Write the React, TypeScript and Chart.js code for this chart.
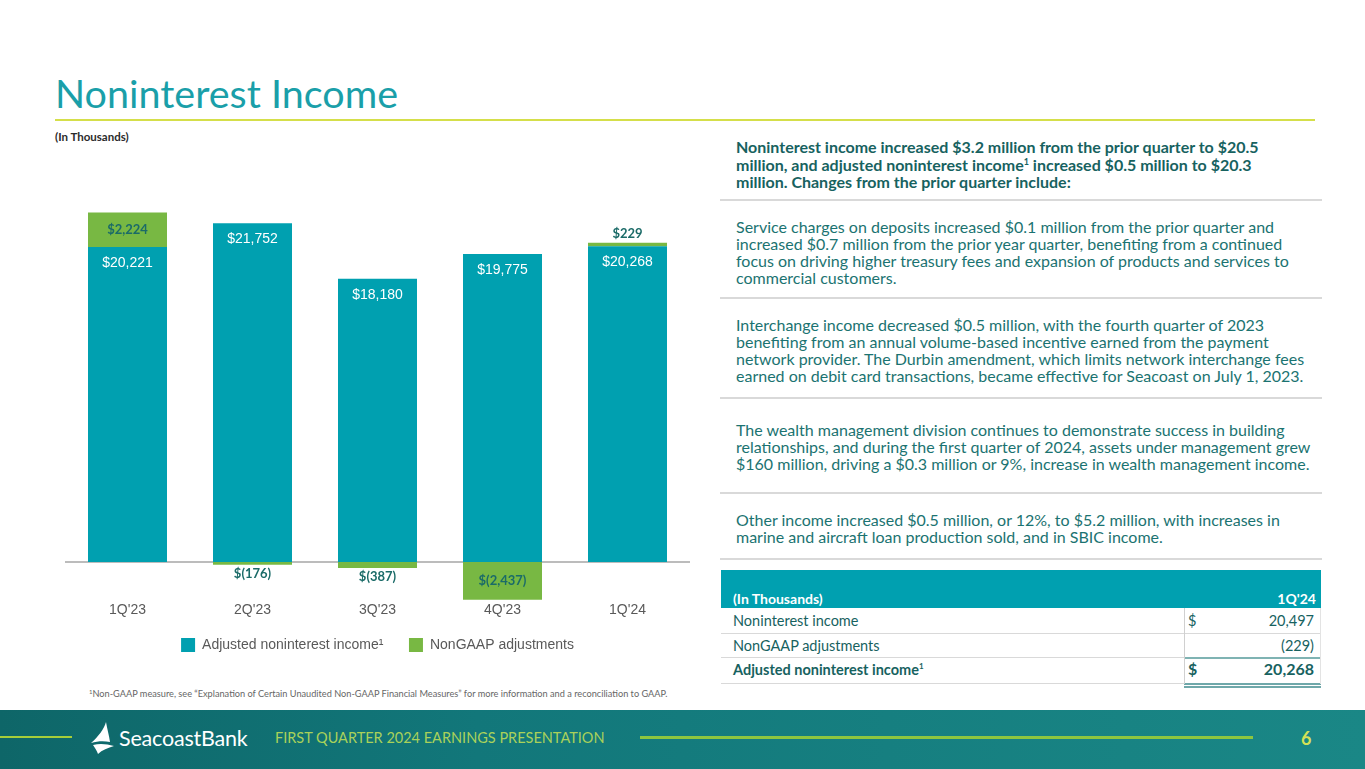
import React, { useEffect, useRef } from "react";
import { Chart, registerables } from "chart.js";

Chart.register(...registerables);

// ---------- DATA ----------
const categories = ["1Q'23", "2Q'23", "3Q'23", "4Q'23", "1Q'24"];
const adjustedIncome = [20221, 21752, 18180, 19775, 20268];
const nonGaapAdjustments = [2224, -176, -387, -2437, 229];
const seriesNames = ["Adjusted noninterest income", "NonGAAP adjustments"];

const tableHeader = ["(In Thousands)", "1Q'24"];
const tableLabels = ["Noninterest income", "NonGAAP adjustments", "Adjusted noninterest income"];
const tableValues = ["20,497", "(229)", "20,268"];

// ---------- STYLE ----------
const TEAL = "#00A0B0";
const GREEN = "#78B843";
const LABEL_DARK = "#1B6B68";
const GRAY_TEXT = "#595959";
const ARIAL = "'Liberation Sans', Arial, sans-serif";
const CAL = "Lato, 'Open Sans', sans-serif";
const HEAD_COLOR = "#17625F";
const BODY_COLOR = "#1B7371";

const fmt = (v: number) =>
  v < 0 ? `$(${Math.abs(v).toLocaleString("en-US")})` : `$${v.toLocaleString("en-US")}`;

const zeroLine = {
  id: "zeroLine",
  beforeDatasetsDraw(chart: any) {
    const { ctx, chartArea } = chart;
    const y = chart.scales.y.getPixelForValue(0);
    ctx.save();
    ctx.strokeStyle = "#A6A6A6";
    ctx.lineWidth = 1.5;
    ctx.beginPath();
    ctx.moveTo(chartArea.left, y);
    ctx.lineTo(chartArea.right, y);
    ctx.stroke();
    ctx.restore();
  },
};

const barLabels = {
  id: "barLabels",
  afterDatasetsDraw(chart: any) {
    const ctx = chart.ctx;
    const m0 = chart.getDatasetMeta(0);
    const m1 = chart.getDatasetMeta(1);
    ctx.save();
    ctx.textAlign = "center";
    ctx.textBaseline = "middle";
    m0.data.forEach((bar: any, i: number) => {
      ctx.font = `14px ${ARIAL}`;
      ctx.fillStyle = "#FFFFFF";
      ctx.fillText(fmt(adjustedIncome[i]), bar.x, bar.y + 16);
    });
    m1.data.forEach((bar: any, i: number) => {
      const v = nonGaapAdjustments[i];
      const top = Math.min(bar.y, bar.base);
      const bottom = Math.max(bar.y, bar.base);
      let y;
      if (Math.abs(v) >= 1000) y = (top + bottom) / 2;
      else if (v > 0) y = top - 9;
      else y = bottom + 9;
      ctx.font = `bold 13px ${CAL}`;
      ctx.fillStyle = LABEL_DARK;
      ctx.fillText(fmt(v), bar.x, y);
    });
    ctx.restore();
  },
};

function BarChart() {
  const ref = useRef<HTMLCanvasElement | null>(null);
  useEffect(() => {
    if (!ref.current) return;
    const chart = new Chart(ref.current, {
      type: "bar",
      data: {
        labels: categories,
        datasets: [
          {
            label: seriesNames[0],
            data: adjustedIncome,
            backgroundColor: TEAL,
            borderWidth: 0,
            categoryPercentage: 0.8,
            barPercentage: 0.79,
          },
          {
            label: seriesNames[1],
            data: nonGaapAdjustments,
            backgroundColor: GREEN,
            borderWidth: 0,
            categoryPercentage: 0.8,
            barPercentage: 0.79,
          },
        ],
      },
      options: {
        animation: false,
        responsive: false,
        devicePixelRatio: 1,
        layout: { padding: { top: 10, left: 10, right: 10, bottom: 0 } },
        scales: {
          x: {
            stacked: true,
            grid: { display: false, drawTicks: false },
            border: { display: false },
            ticks: { color: GRAY_TEXT, font: { family: ARIAL, size: 14 }, padding: 1 },
            afterFit: (s: any) => {
              s.height = 27;
            },
          },
          y: {
            stacked: true,
            display: false,
            min: -2511,
            max: 23245,
          },
        },
        plugins: {
          tooltip: { enabled: false },
          legend: {
            position: "bottom",
            labels: {
              boxWidth: 14,
              boxHeight: 14,
              padding: 10,
              color: GRAY_TEXT,
              font: { family: ARIAL, size: 14 },
              generateLabels: (c: any) => {
                const items = (Chart.defaults.plugins.legend.labels as any).generateLabels(c);
                items[0].text = seriesNames[0] + "\u00B9    ";
                items.forEach((it: any) => {
                  it.lineWidth = 0;
                  it.strokeStyle = "transparent";
                });
                return items;
              },
            },
          },
        },
      },
      plugins: [zeroLine, barLabels],
    } as any);
    return () => chart.destroy();
  }, []);
  return (
    <canvas
      ref={ref}
      width={645}
      height={472}
      style={{ position: "absolute", left: 55, top: 190, width: 645, height: 472 }}
    />
  );
}

const abs = (left: number, top: number, extra: React.CSSProperties = {}): React.CSSProperties => ({
  position: "absolute",
  left,
  top,
  whiteSpace: "nowrap",
  ...extra,
});

const Divider = ({ top }: { top: number }) => (
  <div style={{ position: "absolute", left: 720, top, width: 602, height: 2, background: "#D9D9D9" }} />
);

const Sup = ({ size = 9, rise = 6 }: { size?: number; rise?: number }) => (
  <span style={{ fontSize: size, lineHeight: 0, position: "relative", top: -rise }}>1</span>
);

export default function App() {
  useEffect(() => {
    document.body.style.margin = "0";
  }, []);
  const bodyStyle: React.CSSProperties = {
    fontFamily: CAL,
    fontSize: 16,
    lineHeight: "17px",
    color: BODY_COLOR,
  };
  return (
    <div
      style={{
        position: "fixed",
        left: 0,
        top: 0,
        width: 1365,
        height: 769,
        background: "#FFFFFF",
        overflow: "hidden",
        fontFamily: CAL,
      }}
    >
      {/* Title */}
      <div style={abs(55, 71, { fontSize: 39.5, lineHeight: "44px", color: "#1A9FA9" })}>Noninterest Income</div>
      <div style={{ position: "absolute", left: 55, top: 119, width: 1260, height: 2, background: "#D5DF4A" }} />
      <div style={abs(55, 130, { fontSize: 11.5, lineHeight: "14px", fontWeight: 700, color: "#2B2B2B" })}>
        (In Thousands)
      </div>

      <BarChart />

      {/* footnote */}
      <div style={abs(89, 688, { fontSize: 9.2, lineHeight: "12px", color: "#666666" })}>
        <span style={{ fontSize: 6, lineHeight: 0, position: "relative", top: -3 }}>1</span>Non-GAAP measure, see
        “Explanation of Certain Unaudited Non-GAAP Financial Measures” for more information and a reconciliation to
        GAAP.
      </div>

      {/* Right panel */}
      <div
        style={abs(736, 138, {
          fontFamily: CAL,
          fontSize: 16,
          lineHeight: "17.5px",
          fontWeight: 700,
          color: HEAD_COLOR,
        })}
      >
        Noninterest income increased $3.2 million from the prior quarter to $20.5
        <br />
        million, and adjusted noninterest income<Sup /> increased $0.5 million to $20.3
        <br />
        million. Changes from the prior quarter include:
      </div>
      <Divider top={199} />
      <div style={{ ...abs(736, 218), ...bodyStyle }}>
        Service charges on deposits increased $0.1 million from the prior quarter and
        <br />
        increased $0.7 million from the prior year quarter, benefiting from a continued
        <br />
        focus on driving higher treasury fees and expansion of products and services to
        <br />
        commercial customers.
      </div>
      <Divider top={297} />
      <div style={{ ...abs(736, 316), ...bodyStyle }}>
        Interchange income decreased $0.5 million, with the fourth quarter of 2023
        <br />
        benefiting from an annual volume-based incentive earned from the payment
        <br />
        network provider. The Durbin amendment, which limits network interchange fees
        <br />
        earned on debit card transactions, became effective for Seacoast on July 1, 2023.
      </div>
      <Divider top={397} />
      <div style={{ ...abs(736, 421), ...bodyStyle }}>
        The wealth management division continues to demonstrate success in building
        <br />
        relationships, and during the first quarter of 2024, assets under management grew
        <br />
        $160 million, driving a $0.3 million or 9%, increase in wealth management income.
      </div>
      <Divider top={492} />
      <div style={{ ...abs(736, 511), ...bodyStyle }}>
        Other income increased $0.5 million, or 12%, to $5.2 million, with increases in
        <br />
        marine and aircraft loan production sold, and in SBIC income.
      </div>
      <Divider top={558} />

      {/* Table */}
      <div style={{ position: "absolute", left: 721, top: 570, width: 600, height: 38, background: TEAL }} />
      <div style={abs(733, 590, { fontSize: 14, lineHeight: "18px", fontWeight: 700, color: "#FFFFFF" })}>
        {tableHeader[0]}
      </div>
      <div
        style={abs(1216, 590, {
          width: 100,
          textAlign: "right",
          fontSize: 14,
          lineHeight: "18px",
          fontWeight: 700,
          color: "#FFFFFF",
        })}
      >
        {tableHeader[1]}
      </div>
      {/* row lines */}
      <div style={{ position: "absolute", left: 721, top: 633, width: 600, height: 1, background: "#D9D9D9" }} />
      <div style={{ position: "absolute", left: 721, top: 657, width: 463, height: 1, background: "#D9D9D9" }} />
      <div style={{ position: "absolute", left: 1184, top: 657, width: 137, height: 2, background: "#7FB3B3" }} />
      <div style={{ position: "absolute", left: 721, top: 683, width: 463, height: 1, background: "#D9D9D9" }} />
      <div style={{ position: "absolute", left: 1184, top: 683, width: 137, height: 2, background: "#6FA8AA" }} />
      <div style={{ position: "absolute", left: 1184, top: 686, width: 137, height: 2, background: "#6FA8AA" }} />
      <div style={{ position: "absolute", left: 1184, top: 608, width: 1, height: 76, background: "#D0D0D0" }} />
      <div style={{ position: "absolute", left: 1320, top: 608, width: 1, height: 76, background: "#E3E3E3" }} />

      {[0, 1, 2].map((i) => {
        const top = [612, 637, 661][i];
        const bold = i === 2;
        return (
          <React.Fragment key={i}>
            <div
              style={abs(733, top, {
                fontSize: 14.5,
                lineHeight: "18px",
                fontWeight: bold ? 700 : 400,
                color: HEAD_COLOR,
              })}
            >
              {tableLabels[i]}
              {bold ? <Sup size={8} rise={6} /> : null}
            </div>
            {i !== 1 ? (
              <div
                style={abs(1188, top - (bold ? 1 : 0), {
                  fontSize: bold ? 16 : 14.5,
                  lineHeight: "18px",
                  fontWeight: bold ? 700 : 400,
                  color: HEAD_COLOR,
                })}
              >
                $
              </div>
            ) : null}
            <div
              style={abs(1214, top - (bold ? 1 : 0), {
                width: 100,
                textAlign: "right",
                fontSize: bold ? 16 : 14.5,
                lineHeight: "18px",
                fontWeight: bold ? 700 : 400,
                color: HEAD_COLOR,
              })}
            >
              {tableValues[i]}
            </div>
          </React.Fragment>
        );
      })}

      {/* Footer */}
      <div
        style={{
          position: "absolute",
          left: 0,
          top: 710,
          width: 1365,
          height: 59,
          background: "linear-gradient(90deg, #0E6668 0%, #12777A 35%, #167F80 65%, #1A8786 100%)",
        }}
      />
      <div style={{ position: "absolute", left: 0, top: 736, width: 72, height: 2, background: "#A6CE39" }} />
      <svg style={{ position: "absolute", left: 90, top: 721 }} width={26} height={34} viewBox="0 0 26 34">
        <path d="M16 1 C14 8 8 16 1 22 C8 20 14 20 20 21 C19 14 17 7 16 1 Z" fill="#FFFFFF" />
        <path d="M3 24 C10 22 17 23 24 25 C18 27 12 29 8 33 C7 30 5 27 3 24 Z" fill="#FFFFFF" />
      </svg>
      <div style={abs(119, 725, { fontSize: 21.5, lineHeight: "26px", color: "#FFFFFF", letterSpacing: -0.2 })}>
        SeacoastBank
      </div>
      <div style={abs(275, 728, { fontSize: 14.5, lineHeight: "20px", color: "#A9D15A" })}>
        FIRST QUARTER 2024 EARNINGS PRESENTATION
      </div>
      <div style={{ position: "absolute", left: 640, top: 736, width: 613, height: 3, background: "#8DC63F" }} />
      <div style={abs(1301, 726, { fontSize: 18, lineHeight: "24px", fontWeight: 700, color: "#D4E157" })}>6</div>
    </div>
  );
}
